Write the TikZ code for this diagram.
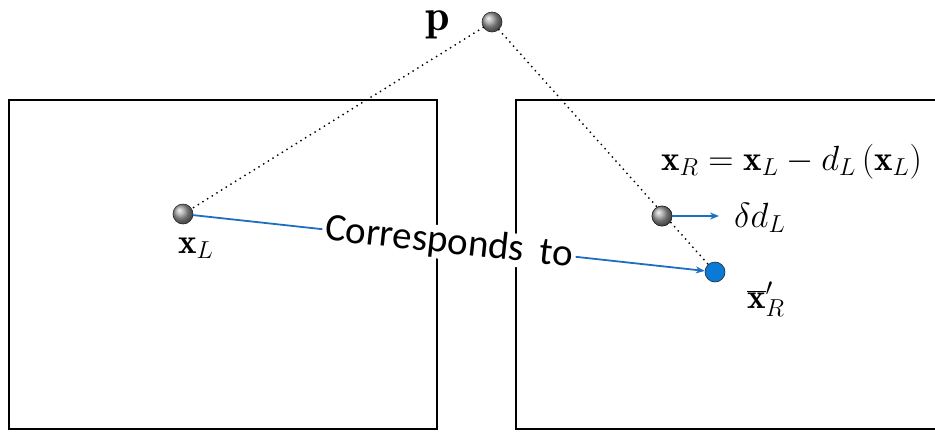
\RequirePackage{fix-cm}
\documentclass[tikz,border=0pt]{standalone}
\usepackage{fontspec}
\newfontfamily\calibrifont{Carlito}
\usepackage{tikz}
\usetikzlibrary{arrows.meta,calc,positioning}
\definecolor{linkblue}{HTML}{1F6FC0}
\definecolor{ballblue}{HTML}{0A7AD6}
\tikzset{
  frame/.style={draw=black, line width=2pt},
  dot/.style={circle, draw=black!85, line width=0.6pt, minimum size=20pt, inner sep=0pt},
  ball/.style={dot, shading=ball, ball color=gray!75},
  blueball/.style={dot, fill=ballblue},
  ray/.style={draw=black, line width=2pt, line cap=round, dash pattern=on 0pt off 5.5pt},
  match/.style={-{Stealth[length=9pt,width=7pt]}, draw=linkblue, line width=1.8pt},
  mathlabel/.style={font=\fontsize{35}{37}\selectfont, inner sep=1pt},
  textlabel/.style={font=\calibrifont\fontsize{39}{41}\selectfont, fill=white, inner xsep=3pt, inner ysep=0pt}
}
\begin{document}
\begin{tikzpicture}[x=1pt, y=-1pt]
  \clip (0,0) rectangle (935,432);

  % image planes
  \draw[frame] (9,100) rectangle (437,429);
  \draw[frame] (516,100) rectangle (960,429);

  % scene point and projections
  \node[ball] (p) at (492,22) {};
  \node[ball] (xl) at (183,214) {};
  \node[ball] (xr) at (662,216) {};
  \node[blueball] (xbar) at (715,272) {};

  \draw[ray] (p) -- (xl);
  \draw[ray] (p) -- (xbar);
  \node[ball] at (xr) {};

  \draw[match] (xl) -- node[textlabel, midway, sloped] (corr) {Corresponds\hspace{0.4em}to} (xbar);
  \coordinate (shift) at (719,216);
  \draw[match] (xr) -- (shift);

  % labels
  \node[mathlabel, font=\fontsize{44}{46}\selectfont, inner sep=0pt, anchor=base] (plab) at (438,30) {$\mathbf{p}$};
  \node[mathlabel, anchor=base west] (xllab) at (177,253) {$\mathbf{x}_L$};
  \node[mathlabel, anchor=base west] (eq) at (660,170) {$\mathbf{x}_R=\mathbf{x}_L-d_L\left(\mathbf{x}_L\right)$};
  \node[mathlabel, anchor=base west] (dlab) at (733,227) {$\delta d_L$};
  \node[mathlabel, anchor=base west] (xbarlab) at (746,308) {$\overline{\mathbf{x}}'_R$};
\end{tikzpicture}
\end{document}
